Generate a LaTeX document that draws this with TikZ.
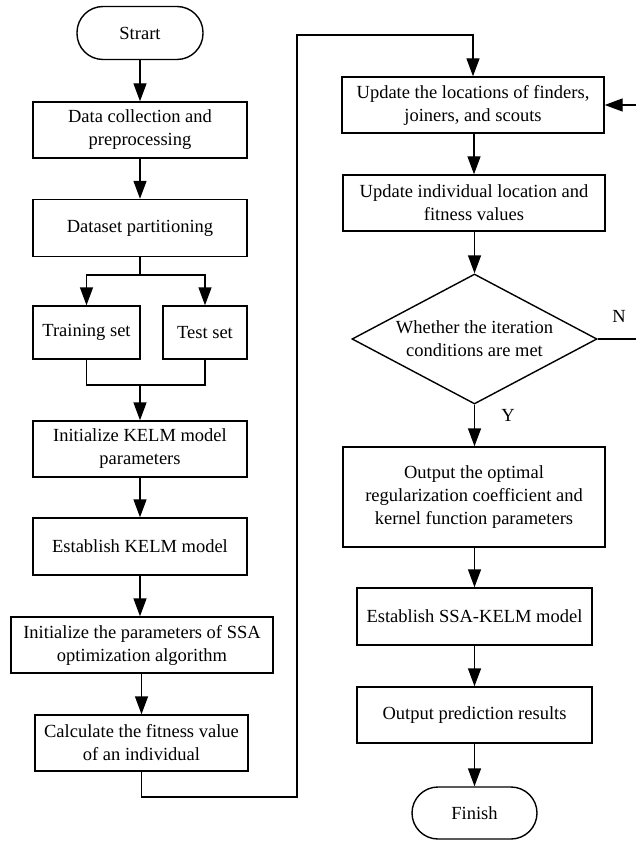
\documentclass[tikz,border=0pt]{standalone}
\usepackage{fontspec}
\setmainfont{Liberation Serif}
\usetikzlibrary{shapes.geometric,arrows.meta}
\tikzset{
  txt/.style={font=\fontsize{18.5}{23}\selectfont, align=center},
  box/.style={txt, draw, line width=1.4pt, inner sep=0pt},
  term/.style={box, rounded corners=26pt, minimum width=126pt, minimum height=53pt},
  dec/.style={txt, draw, line width=1.4pt, shape=diamond, aspect=1.885, inner sep=0pt, minimum width=245pt, minimum height=130pt},
  line/.style={line width=1.4pt},
  arr/.style={line, -{Triangle[length=18pt,width=13pt]}}
}
\begin{document}
\begin{tikzpicture}[x=1pt,y=-1pt]
\useasboundingbox[fill=white] (0,0) rectangle (636,842);
% left column
\node[term] (start) at (140,33) {Strart};
\node[box, minimum width=214pt, minimum height=56pt] (data) at (140,130) {Data collection and\\preprocessing};
\node[box, minimum width=214pt, minimum height=57pt] (part) at (140,228) {Dataset partitioning};
\node[box, minimum width=107pt, minimum height=53pt] (train) at (86.5,332.5) {Training set};
\node[box, minimum width=84pt, minimum height=53pt] (test) at (205,332.5) {Test set};
\node[box, minimum width=214pt, minimum height=56pt] (ikelm) at (140,449) {Initialize KELM model\\parameters};
\node[box, minimum width=214pt, minimum height=57pt] (ekelm) at (140,546.5) {Establish KELM model};
\node[box, minimum width=262pt, minimum height=56pt] (issa) at (142,645) {Initialize the parameters of SSA\\optimization algorithm};
\node[box, minimum width=213pt, minimum height=56pt] (calc) at (141.5,743) {Calculate the fitness value\\of an individual};
% right column
\node[box, minimum width=262pt, minimum height=56pt] (upd1) at (473,105) {Update the locations of finders,\\joiners, and scouts};
\node[box, minimum width=262pt, minimum height=56pt] (upd2) at (474,203) {Update individual location and\\fitness values};
\node[dec] (cond) at (474.5,339) {Whether the iteration\\conditions are met};
\node[box, minimum width=262pt, minimum height=100pt] (outopt) at (474,497) {Output the optimal\\regularization coefficient and\\kernel function parameters};
\node[box, minimum width=235pt, minimum height=57pt] (essa) at (474.5,616.5) {Establish SSA-KELM model};
\node[box, minimum width=235pt, minimum height=56pt] (outpred) at (474.5,715) {Output prediction results};
\node[term, minimum width=125pt, minimum height=52pt] (finish) at (474.5,813) {Finish};
\node[txt] (nlab) at (619,316) {N};
\node[txt] (ylab) at (508,415) {Y};
% coordinates
\coordinate (split) at (140,275);
\coordinate (merge) at (140,385);
\coordinate (lb) at (297,797);
\coordinate (lt) at (297,35);
\coordinate (rr) at (650,339);
% connectors
\draw[arr] (start) -- (data);
\draw[arr] (data) -- (part);
\draw[line] (part.south) -- (split);
\draw[arr] (split) -| (train.north);
\draw[arr] (split) -| (test.north);
\draw[line] (train.south) |- (merge) -| (test.south);
\draw[arr] (merge) -- (ikelm.north);
\draw[arr] (ikelm) -- (ekelm);
\draw[arr] (ekelm.south) -- (ekelm.south |- issa.north);
\draw[arr] (issa.south -| calc.north) -- (calc.north);
\draw[arr] (calc.south) |- (lb) -- (lt) -| (upd1.north);
\draw[arr] (upd1.south -| upd2.north) -- (upd2.north);
\draw[arr] (upd2.south -| cond.north) -- (cond.north);
\draw[arr] (cond.south) -- (cond.south |- outopt.north);
\draw[arr] (outopt.south -| essa.north) -- (essa.north);
\draw[arr] (essa) -- (outpred);
\draw[arr] (outpred) -- (finish);
\draw[arr] (cond.east) -- (rr) |- (upd1.east);
\end{tikzpicture}
\end{document}
